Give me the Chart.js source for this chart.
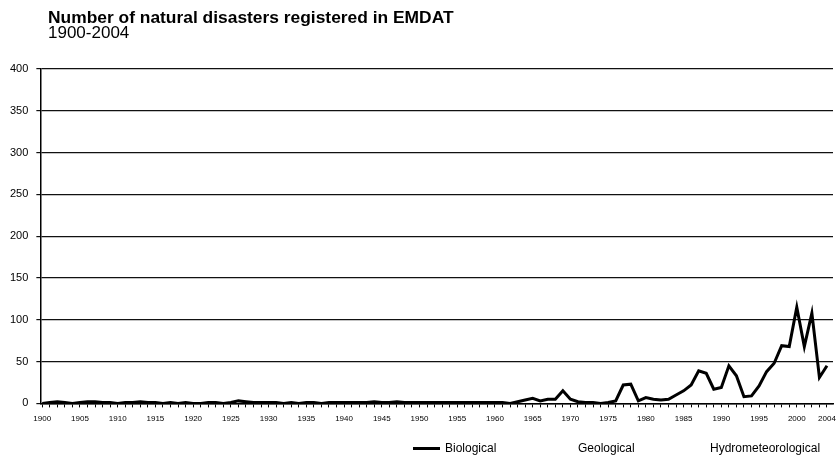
<!DOCTYPE html>
<html>
<head>
<meta charset="utf-8">
<script src="https://cdn.jsdelivr.net/npm/chart.js@4.4.1/dist/chart.umd.min.js"></script>
<style>
	html, body { margin: 0; padding: 0; background: #fff; }
	#wrap { position: relative; width: 838px; height: 458px; font-family: "Liberation Sans", Arial, sans-serif; color: #000; }
	#chart { position: absolute; left: 0; top: 0; }
	.title { position: absolute; left: 48px; top: 8px; font-size: 17.4px; font-weight: bold; line-height: 18px; white-space: nowrap; }
	.subtitle { position: absolute; left: 48px; top: 24px; font-size: 17px; line-height: 18px; white-space: nowrap; }
	.legend-item { position: absolute; top: 441px; font-size: 12px; line-height: 14px; white-space: nowrap; }
	.swatch { position: absolute; top: 6px; width: 27px; height: 0; border-top: 3px solid transparent; }
</style>
</head>
<body>
<div id="wrap">
	<canvas id="chart" width="838" height="458"></canvas>
	<div class="title">Number of natural disasters registered in EMDAT</div>
	<div class="subtitle">1900-2004</div>
	<div id="legend"></div>
</div>
<script>
// Jahre auf der x-Achse
const years = [];
for (let y = 1900; y <= 2004; y++) years.push(y);

const yTicks = [0, 50, 100, 150, 200, 250, 300, 350, 400];

// Biologische Katastrophen pro Jahr
const biological = [
	0, 1, 2, 1, 0, 1, 2, 2, 1, 1,      // 1900-1909
	0, 1, 1, 2, 1, 1, 0, 1, 0, 1,      // 1910-1919
	0, 0, 1, 1, 0, 1, 3, 2, 1, 1,      // 1920-1929
	1, 1, 0, 1, 0, 1, 1, 0, 1, 1,      // 1930-1939
	1, 1, 1, 1, 2, 1, 1, 2, 1, 1,      // 1940-1949
	1, 1, 1, 1, 1, 1, 1, 1, 1, 1,      // 1950-1959
	1, 1, 0, 2, 4, 6, 3, 5, 5, 15,     // 1960-1969
	5, 2, 1, 1, 0, 1, 3, 22, 23, 3,    // 1970-1979
	7, 5, 4, 5, 10, 15, 22, 39, 36, 17, // 1980-1989
	19, 45, 33, 8, 9, 21, 38, 48, 69, 68, // 1990-1999
	115, 68, 108, 31, 45                // 2000-2004
];

// Diese beiden Linien sind im Scan nicht mehr sichtbar, nur die Legende
const geological = [];
const hydrometeorological = [];

const seriesNames = ["Biological", "Geological", "Hydrometeorological"];
const seriesColors = ["#000000", "rgba(0,0,0,0)", "rgba(0,0,0,0)"];
const legendLeft = [413, 546, 678];

function toPoints(values) {
	return values.map((v, i) => ({ x: years[i], y: v }));
}

const seriesData = [biological, geological, hydrometeorological];

new Chart(document.getElementById("chart"), {
	type: "line",
	data: {
		datasets: seriesNames.map((name, i) => ({
			label: name,
			data: toPoints(seriesData[i]),
			borderColor: seriesColors[i],
			borderWidth: 3,
			pointRadius: 0,
			tension: 0,
			fill: false,
		})),
	},
	options: {
		responsive: false,
		animation: false,
		layout: { padding: { top: 69, left: 2, right: 5, bottom: 27 } },
		plugins: {
			legend: { display: false },
			tooltip: { enabled: false },
		},
		scales: {
			x: {
				type: "linear",
				min: 1899.75,
				max: 2004.8,
				afterBuildTicks: (axis) => {
					axis.ticks = years.map((y) => ({ value: y }));
				},
				// letztes Label "2004" soll die Fläche nicht verkleinern
				afterFit: (axis) => {
					axis.paddingRight = 0;
				},
				ticks: {
					autoSkip: false,
					maxRotation: 0,
					padding: 7,
					color: "#000",
					font: { family: "Liberation Sans", size: 8 },
					callback: (v) => (v % 5 === 0 || v === 2004 ? String(v) : ""),
				},
				grid: {
					display: true,
					drawOnChartArea: false,
					drawTicks: true,
					tickLength: 4,
					color: "#000",
				},
				border: { display: true, color: "#000", width: 1.5 },
			},
			y: {
				min: 0,
				max: 400,
				afterBuildTicks: (axis) => {
					axis.ticks = yTicks.map((v) => ({ value: v }));
				},
				ticks: {
					padding: 8,
					color: "#000",
					font: { family: "Liberation Sans", size: 11 },
				},
				grid: {
					color: "#111",
					lineWidth: 1.2,
					tickLength: 4,
				},
				border: { display: true, color: "#000", width: 1.5 },
			},
		},
	},
});

// Legende als HTML, weil die Abstände im Original sehr breit sind
const legendEl = document.getElementById("legend");
seriesNames.forEach((name, i) => {
	const item = document.createElement("div");
	item.className = "legend-item";
	item.style.left = legendLeft[i] + "px";
	item.style.paddingLeft = "32px";
	const sw = document.createElement("div");
	sw.className = "swatch";
	sw.style.left = "0px";
	sw.style.borderTopColor = seriesColors[i];
	item.appendChild(sw);
	item.appendChild(document.createTextNode(name));
	legendEl.appendChild(item);
});
</script>
</body>
</html>
